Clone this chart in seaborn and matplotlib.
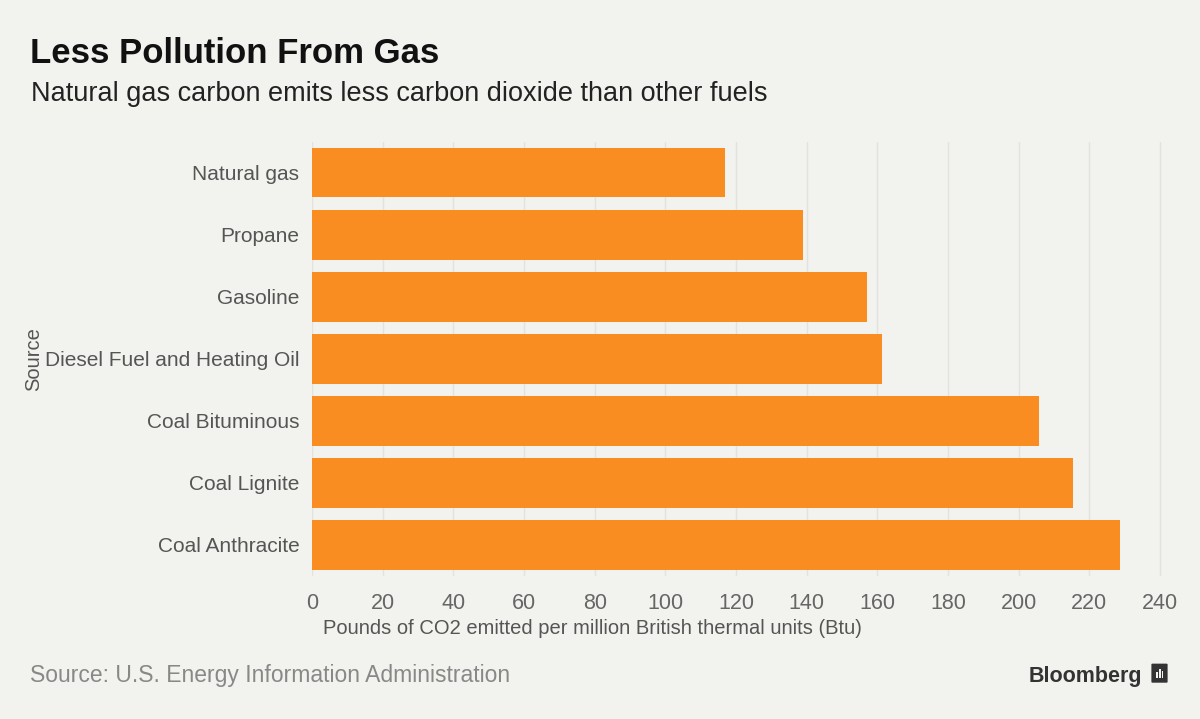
import matplotlib
matplotlib.use("Agg")
import matplotlib.pyplot as plt
import pandas as pd
import seaborn as sns
from matplotlib.patches import FancyBboxPatch, Rectangle

# Chart data
sources = ["Natural gas", "Propane", "Gasoline", "Diesel Fuel and Heating Oil",
           "Coal Bituminous", "Coal Lignite", "Coal Anthracite"]
co2_pounds = [117.0, 139.0, 157.2, 161.3, 205.7, 215.4, 228.6]
x_ticks = [0, 20, 40, 60, 80, 100, 120, 140, 160, 180, 200, 220, 240]

df = pd.DataFrame({"Source": sources, "CO2": co2_pounds})

bg = "#f2f2ee"
orange = "#f98d21"

sns.set_theme(style="whitegrid")
plt.rcParams["font.family"] = ["Liberation Sans", "DejaVu Sans"]

fig = plt.figure(figsize=(12, 7.19), dpi=100, facecolor=bg)
ax = fig.add_axes([0.26, 0.199, 0.712, 0.604], facecolor=bg)

sns.barplot(data=df, x="CO2", y="Source", color=orange, saturation=1,
            width=0.8, linewidth=0, ax=ax)

ax.set_xlim(0, 241.8)
ax.set_xticks(x_ticks)
ax.grid(axis="x", color="#e2e2de", linewidth=1)
ax.grid(axis="y", visible=False)
for s in ax.spines.values():
    s.set_visible(False)
ax.tick_params(axis="x", colors="#666666", labelsize=15.5, length=0, pad=12)
ax.tick_params(axis="y", colors="#555555", labelsize=15, length=0, pad=9)
ax.set_xlabel("Pounds of CO2 emitted per million British thermal units (Btu)",
              fontsize=14.5, color="#555555")
ax.xaxis.set_label_coords(0.013, -0.1)
ax.xaxis.label.set_horizontalalignment("left")
ax.set_ylabel("Source", fontsize=14.5, color="#555555")
ax.yaxis.set_label_coords(-0.315, 0.5)

# Titles and footer
fig.text(0.025, 0.912, "Less Pollution From Gas", fontsize=25, fontweight="bold",
         color="#111111")
fig.text(0.026, 0.86, "Natural gas carbon emits less carbon dioxide than other fuels",
         fontsize=19.5, color="#222222")
fig.text(0.025, 0.052, "Source: U.S. Energy Information Administration",
         fontsize=16.5, color="#888888")
fig.text(0.857, 0.052, "Bloomberg", fontsize=15.5, fontweight="bold",
         color="#333333")
fig.patches.append(FancyBboxPatch((0.9605, 0.0515), 0.0115, 0.0245,
                                  boxstyle="round,pad=0.001", transform=fig.transFigure,
                                  facecolor="#333333", edgecolor="none"))
for bx, bh in [(0.9635, 0.008), (0.9658, 0.013), (0.9681, 0.010)]:
    fig.patches.append(Rectangle((bx, 0.057), 0.0013, bh, transform=fig.transFigure,
                                 facecolor=bg, edgecolor="none"))

fig.savefig("out.png", dpi=100, facecolor=bg)
